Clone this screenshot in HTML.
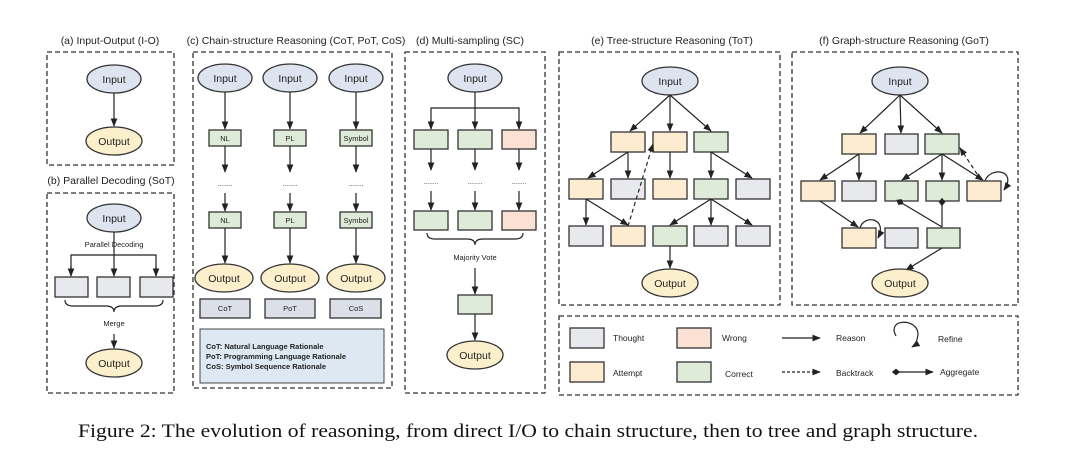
<!DOCTYPE html>
<html><head><meta charset="utf-8"><style>
html,body{margin:0;padding:0;background:#fff;}
svg{display:block;font-family:"Liberation Sans",sans-serif;}
.bx{stroke:#333;stroke-width:1.3;stroke-dasharray:5 3;fill:none}
.n{stroke:#333;stroke-width:1.3}
.in{fill:#dde3ef;stroke:#333;stroke-width:1.3}
.out{fill:#fcf0cc;stroke:#333;stroke-width:1.3}
.g{fill:#deebd8}.a{fill:#fdecd0}.t{fill:#e8e9ed}.w{fill:#fae1d3}
.l{stroke:#222;stroke-width:1.2;fill:none}
.tt{font-size:10.5px;fill:#222;text-anchor:middle}
.nt{font-size:10.5px;fill:#222;text-anchor:middle}
.st{font-size:7.5px;fill:#222;text-anchor:middle}
.lg{font-size:8.5px;fill:#222}
</style></head><body>
<svg width="1080" height="472" viewBox="0 0 1080 472">
<defs><marker id="ar" viewBox="0 0 10 10" refX="9" refY="5" markerWidth="7" markerHeight="7" orient="auto-start-reverse"><path d="M0,1 L10,5 L0,9 z" fill="#222"/></marker>
<marker id="dm" viewBox="0 0 10 10" refX="5" refY="5" markerWidth="7" markerHeight="7" orient="auto"><path d="M0,5 L5,1 L10,5 L5,9 z" fill="#222"/></marker></defs>

<text class="tt" x="110" y="44">(a) Input-Output (I-O)</text>
<text class="tt" x="111" y="184">(b) Parallel Decoding (SoT)</text>
<text class="tt" x="296" y="44">(c) Chain-structure Reasoning (CoT, PoT, CoS)</text>
<text class="tt" x="470" y="44">(d) Multi-sampling (SC)</text>
<text class="tt" x="672" y="44">(e) Tree-structure Reasoning (ToT)</text>
<text class="tt" x="904" y="44">(f) Graph-structure Reasoning (GoT)</text>

<rect class="bx" x="47" y="52" width="127" height="113"/>
<rect class="bx" x="47" y="193" width="127" height="200"/>
<rect class="bx" x="193" y="52" width="199" height="336"/>
<rect class="bx" x="405" y="52" width="140" height="341"/>
<rect class="bx" x="559" y="52" width="221" height="253"/>
<rect class="bx" x="792" y="52" width="226" height="253"/>
<rect class="bx" x="559" y="316" width="459" height="79"/>

<ellipse class="in" cx="114" cy="79" rx="27" ry="14"/><text class="nt" x="114" y="83">Input</text>
<line class="l" x1="114" y1="93" x2="114" y2="126" marker-end="url(#ar)"/>
<ellipse class="out" cx="114" cy="141" rx="28" ry="14"/><text class="nt" x="114" y="145">Output</text>

<ellipse class="in" cx="114" cy="218" rx="27" ry="14"/><text class="nt" x="114" y="222">Input</text>
<text class="st" x="114" y="247">Parallel  Decoding</text>
<line class="l" x1="114" y1="232" x2="114" y2="276" marker-end="url(#ar)"/>
<path class="l" d="M71,276 V255 H156 V276"/>
<line class="l" x1="71" y1="266" x2="71" y2="276" marker-end="url(#ar)"/>
<line class="l" x1="156" y1="266" x2="156" y2="276" marker-end="url(#ar)"/>
<rect class="n t" x="55" y="277" width="33" height="20"/><rect class="n t" x="97" y="277" width="33" height="20"/><rect class="n t" x="140" y="277" width="33" height="20"/>
<path class="l" d="M65,300 q0,6 8,6 h33 q8,0 8,6 q0,-6 8,-6 h33 q8,0 8,-6" stroke-width="0.9"/>
<text class="st" x="114" y="326">Merge</text>
<line class="l" x1="114" y1="334" x2="114" y2="348" marker-end="url(#ar)"/>
<ellipse class="out" cx="114" cy="363" rx="28" ry="14"/><text class="nt" x="114" y="367">Output</text>

<g>
<ellipse class="in" cx="225" cy="78" rx="27" ry="14"/><text class="nt" x="225" y="82">Input</text>
<ellipse class="in" cx="290" cy="78" rx="27" ry="14"/><text class="nt" x="290" y="82">Input</text>
<ellipse class="in" cx="356" cy="78" rx="27" ry="14"/><text class="nt" x="356" y="82">Input</text>
<line class="l" x1="225" y1="92" x2="225" y2="129" marker-end="url(#ar)"/>
<line class="l" x1="290" y1="92" x2="290" y2="129" marker-end="url(#ar)"/>
<line class="l" x1="356" y1="92" x2="356" y2="129" marker-end="url(#ar)"/>
<rect class="n g" x="209" y="130" width="32" height="16"/><text class="st" x="225" y="141">NL</text>
<rect class="n g" x="274" y="130" width="32" height="16"/><text class="st" x="290" y="141">PL</text>
<rect class="n g" x="340" y="130" width="32" height="16"/><text class="st" x="356" y="141">Symbol</text>
<line class="l" x1="225" y1="146" x2="225" y2="172" marker-end="url(#ar)"/>
<line class="l" x1="290" y1="146" x2="290" y2="172" marker-end="url(#ar)"/>
<line class="l" x1="356" y1="146" x2="356" y2="172" marker-end="url(#ar)"/>
<text class="st" x="225" y="186">.......</text><text class="st" x="290" y="186">.......</text><text class="st" x="356" y="186">.......</text>
<line class="l" x1="225" y1="193" x2="225" y2="211" marker-end="url(#ar)"/>
<line class="l" x1="290" y1="193" x2="290" y2="211" marker-end="url(#ar)"/>
<line class="l" x1="356" y1="193" x2="356" y2="211" marker-end="url(#ar)"/>
<rect class="n g" x="209" y="212" width="32" height="16"/><text class="st" x="225" y="223">NL</text>
<rect class="n g" x="274" y="212" width="32" height="16"/><text class="st" x="290" y="223">PL</text>
<rect class="n g" x="340" y="212" width="32" height="16"/><text class="st" x="356" y="223">Symbol</text>
<line class="l" x1="225" y1="228" x2="225" y2="263" marker-end="url(#ar)"/>
<line class="l" x1="290" y1="228" x2="290" y2="263" marker-end="url(#ar)"/>
<line class="l" x1="356" y1="228" x2="356" y2="263" marker-end="url(#ar)"/>
<ellipse class="out" cx="224" cy="278" rx="29" ry="14"/><text class="nt" x="224" y="282">Output</text>
<ellipse class="out" cx="290" cy="278" rx="29" ry="14"/><text class="nt" x="290" y="282">Output</text>
<ellipse class="out" cx="356" cy="278" rx="29" ry="14"/><text class="nt" x="356" y="282">Output</text>
<rect class="n" fill="#dcdfe7" x="200" y="299" width="50" height="19"/><text class="st" x="225" y="311">CoT</text>
<rect class="n" fill="#dcdfe7" x="265" y="299" width="50" height="19"/><text class="st" x="290" y="311">PoT</text>
<rect class="n" fill="#dcdfe7" x="330" y="299" width="51" height="19"/><text class="st" x="356" y="311">CoS</text>
<rect fill="#dde8f3" stroke="#444" stroke-width="1" x="200" y="329" width="184" height="54"/>
<text x="206" y="349" font-size="7.5" font-weight="bold" fill="#222">CoT: Natural Language Rationale</text>
<text x="206" y="359" font-size="7.5" font-weight="bold" fill="#222">PoT: Programming Language Rationale</text>
<text x="206" y="369" font-size="7.5" font-weight="bold" fill="#222">CoS: Symbol Sequence Rationale</text>
</g>

<ellipse class="in" cx="475" cy="78" rx="27" ry="14"/><text class="nt" x="475" y="82">Input</text>
<line class="l" x1="475" y1="92" x2="475" y2="129" marker-end="url(#ar)"/>
<path class="l" d="M431,129 V108 H519 V129"/>
<line class="l" x1="431" y1="120" x2="431" y2="129" marker-end="url(#ar)"/>
<line class="l" x1="519" y1="120" x2="519" y2="129" marker-end="url(#ar)"/>
<rect class="n g" x="414" y="130" width="34" height="19"/><rect class="n g" x="458" y="130" width="34" height="19"/><rect class="n w" x="502" y="130" width="34" height="19"/>
<line class="l" x1="431" y1="149" x2="431" y2="170" marker-end="url(#ar)"/><line class="l" x1="475" y1="149" x2="475" y2="170" marker-end="url(#ar)"/><line class="l" x1="519" y1="149" x2="519" y2="170" marker-end="url(#ar)"/>
<text class="st" x="431" y="184">.......</text><text class="st" x="475" y="184">.......</text><text class="st" x="519" y="184">.......</text>
<line class="l" x1="431" y1="191" x2="431" y2="210" marker-end="url(#ar)"/><line class="l" x1="475" y1="191" x2="475" y2="210" marker-end="url(#ar)"/><line class="l" x1="519" y1="191" x2="519" y2="210" marker-end="url(#ar)"/>
<rect class="n g" x="414" y="211" width="34" height="19"/><rect class="n g" x="458" y="211" width="34" height="19"/><rect class="n w" x="502" y="211" width="34" height="19"/>
<path class="l" d="M427,233 q0,6 8,6 h32 q8,0 8,6 q0,-6 8,-6 h32 q8,0 8,-6" stroke-width="0.9"/>
<text class="st" x="475" y="260">Majority Vote</text>
<line class="l" x1="475" y1="268" x2="475" y2="294" marker-end="url(#ar)"/>
<rect class="n g" x="458" y="295" width="34" height="19"/>
<line class="l" x1="475" y1="314" x2="475" y2="340" marker-end="url(#ar)"/>
<ellipse class="out" cx="475" cy="355" rx="28" ry="14"/><text class="nt" x="475" y="359">Output</text>

<ellipse class="in" cx="670" cy="81" rx="28" ry="14"/><text class="nt" x="670" y="85">Input</text>
<line class="l" x1="670" y1="95" x2="630" y2="131" marker-end="url(#ar)"/>
<line class="l" x1="670" y1="95" x2="670" y2="131" marker-end="url(#ar)"/>
<line class="l" x1="670" y1="95" x2="711" y2="131" marker-end="url(#ar)"/>
<rect class="n a" x="611" y="132" width="34" height="20"/><rect class="n a" x="653" y="132" width="34" height="20"/><rect class="n g" x="694" y="132" width="34" height="20"/>
<line class="l" x1="628" y1="152" x2="588" y2="178" marker-end="url(#ar)"/>
<line class="l" x1="628" y1="152" x2="628" y2="178" marker-end="url(#ar)"/>
<line class="l" x1="670" y1="152" x2="670" y2="178" marker-end="url(#ar)"/>
<line class="l" x1="711" y1="152" x2="711" y2="178" marker-end="url(#ar)"/>
<line class="l" x1="711" y1="152" x2="752" y2="178" marker-end="url(#ar)"/>
<rect class="n a" x="569" y="179" width="34" height="20"/><rect class="n t" x="611" y="179" width="34" height="20"/><rect class="n a" x="653" y="179" width="34" height="20"/><rect class="n g" x="694" y="179" width="34" height="20"/><rect class="n t" x="736" y="179" width="34" height="20"/>
<line class="l" x1="586" y1="199" x2="586" y2="225" marker-end="url(#ar)"/>
<line class="l" x1="586" y1="199" x2="628" y2="225" marker-end="url(#ar)"/>
<line class="l" x1="711" y1="199" x2="670" y2="225" marker-end="url(#ar)"/>
<line class="l" x1="711" y1="199" x2="711" y2="225" marker-end="url(#ar)"/>
<line class="l" x1="711" y1="199" x2="752" y2="225" marker-end="url(#ar)"/>
<line class="l" x1="628" y1="226" x2="653" y2="144" stroke-dasharray="4 3" marker-end="url(#ar)"/>
<rect class="n t" x="569" y="226" width="34" height="20"/><rect class="n a" x="611" y="226" width="34" height="20"/><rect class="n g" x="653" y="226" width="34" height="20"/><rect class="n t" x="694" y="226" width="34" height="20"/><rect class="n t" x="736" y="226" width="34" height="20"/>
<line class="l" x1="670" y1="246" x2="670" y2="268" marker-end="url(#ar)"/>
<ellipse class="out" cx="670" cy="283" rx="28" ry="14"/><text class="nt" x="670" y="287">Output</text>

<ellipse class="in" cx="900" cy="81" rx="28" ry="14"/><text class="nt" x="900" y="85">Input</text>
<line class="l" x1="900" y1="95" x2="860" y2="133" marker-end="url(#ar)"/>
<line class="l" x1="900" y1="95" x2="901" y2="133" marker-end="url(#ar)"/>
<line class="l" x1="900" y1="95" x2="942" y2="133" marker-end="url(#ar)"/>
<rect class="n a" x="842" y="134" width="34" height="20"/><rect class="n t" x="885" y="134" width="33" height="20"/><rect class="n g" x="925" y="134" width="34" height="20"/>
<line class="l" x1="859" y1="154" x2="820" y2="180" marker-end="url(#ar)"/>
<line class="l" x1="859" y1="154" x2="859" y2="180" marker-end="url(#ar)"/>
<line class="l" x1="942" y1="154" x2="902" y2="180" marker-end="url(#ar)"/>
<line class="l" x1="942" y1="154" x2="942" y2="180" marker-end="url(#ar)"/>
<line class="l" x1="942" y1="154" x2="983" y2="180" marker-end="url(#ar)"/>
<line class="l" x1="981" y1="180" x2="960" y2="148" stroke-dasharray="4 3" marker-end="url(#ar)"/>
<rect class="n a" x="801" y="181" width="34" height="20"/><rect class="n t" x="842" y="181" width="34" height="20"/><rect class="n g" x="885" y="181" width="33" height="20"/><rect class="n g" x="926" y="181" width="33" height="20"/><rect class="n a" x="967" y="181" width="34" height="20"/>
<path class="l" d="M985,181 C990,166 1018,170 1004,190" marker-end="url(#ar)"/>
<line class="l" x1="820" y1="201" x2="858" y2="227" marker-end="url(#ar)"/>
<line class="l" x1="942" y1="227" x2="900" y2="202" marker-end="url(#dm)"/>
<line class="l" x1="942" y1="227" x2="942" y2="202" marker-end="url(#dm)"/>
<rect class="n a" x="842" y="228" width="34" height="20"/><rect class="n t" x="885" y="228" width="33" height="20"/><rect class="n g" x="927" y="228" width="33" height="20"/>
<path class="l" d="M860,228 C864,214 888,218 878,238" marker-end="url(#ar)"/>
<line class="l" x1="942" y1="248" x2="906" y2="270" marker-end="url(#ar)"/>
<ellipse class="out" cx="900" cy="283" rx="28" ry="14"/><text class="nt" x="900" y="287">Output</text>

<rect class="n t" x="570" y="328" width="34" height="20"/><text class="lg" x="613" y="341">Thought</text>
<rect class="n w" x="677" y="328" width="34" height="20"/><text class="lg" x="722" y="341">Wrong</text>
<line class="l" x1="782" y1="338" x2="820" y2="338" marker-end="url(#ar)"/><text class="lg" x="836" y="341">Reason</text>
<path class="l" d="M896,336 C886,318 918,318 918,334 Q917,344 912,347" marker-end="url(#ar)"/><text class="lg" x="938" y="342">Refine</text>
<rect class="n a" x="570" y="362" width="34" height="20"/><text class="lg" x="613" y="376">Attempt</text>
<rect class="n g" x="677" y="362" width="34" height="20"/><text class="lg" x="725" y="377">Correct</text>
<line class="l" x1="782" y1="372" x2="820" y2="372" stroke-dasharray="3 2" marker-end="url(#ar)"/><text class="lg" x="836" y="376">Backtrack</text>
<line class="l" x1="896" y1="372" x2="933" y2="372" marker-start="url(#dm)" marker-end="url(#ar)"/><text class="lg" x="940" y="375">Aggregate</text>

<text x="78" y="437" font-family="Liberation Serif, serif" font-size="18.5" fill="#111" textLength="900" lengthAdjust="spacingAndGlyphs">Figure 2:  The evolution of reasoning, from direct I/O to chain structure, then to tree and graph structure.</text>
</svg>
</body></html>
